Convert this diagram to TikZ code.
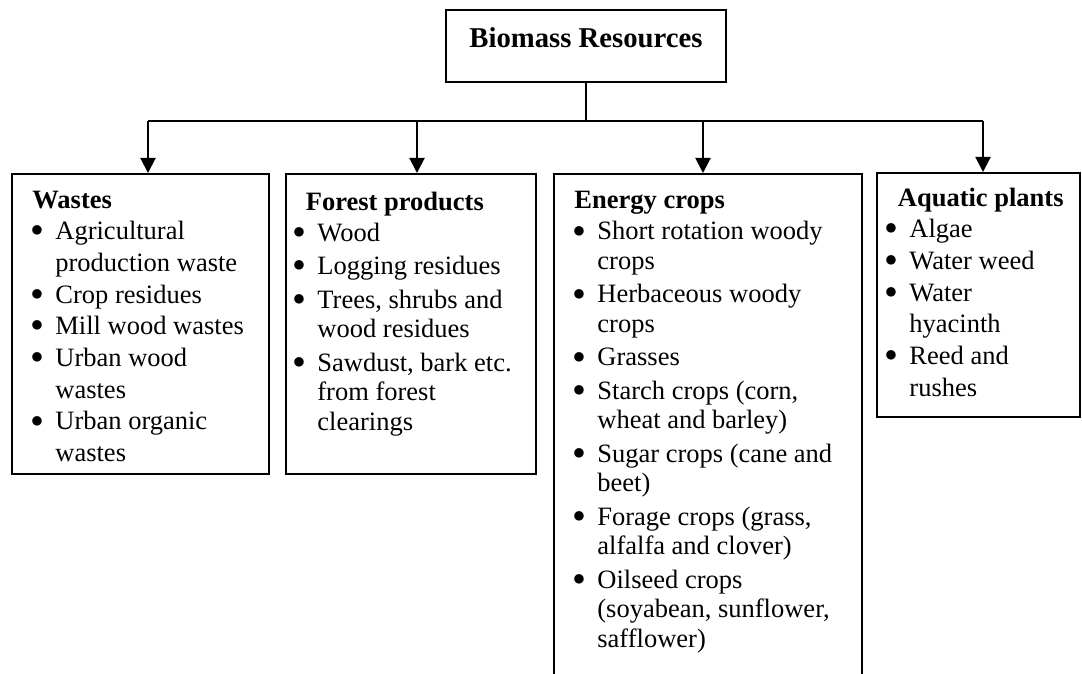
\documentclass[tikz,border=0pt]{standalone}
\usepackage{fontspec}
\usepackage{graphicx}
\setmainfont{Liberation Serif}
\usetikzlibrary{arrows.meta}

\newcommand{\itm}{\makebox[10.4pt][l]{\hspace*{-1.1pt}\raisebox{-1.9pt}{\scalebox{1.5}{\textbullet}}}}
\newcommand{\cnt}{\hspace*{10.4pt}}

\tikzset{
  catbox/.style={draw, line width=0.9pt, inner sep=0pt, anchor=north west},
  loose/.style={inner sep=0pt, anchor=base west, font=\fontsize{12}{14.35}\selectfont},
  tight/.style={inner sep=0pt, anchor=base west, font=\fontsize{12}{13.36}\selectfont},
  arr/.style={-{Triangle[length=6.8pt,width=6.8pt]}, line width=0.9pt},
  bus/.style={line width=0.9pt}
}

\begin{document}
\begin{tikzpicture}[x=0.4528pt, y=-0.4528pt]
    \useasboundingbox (0,0) rectangle (1082,673);
    \clip (0,0) rectangle (1082,673);

    % Root
    \node (top) [draw, line width=0.9pt, inner sep=0pt, minimum width=126.8pt, text height=16.75pt, text depth=15.85pt, anchor=base, font=\fontsize{13}{15}\selectfont\bfseries] at (586,47) {Biomass Resources};

    % Categories
    \node (wastes) [catbox, minimum width=116.4pt, minimum height=135.8pt] at (11,173) {};
    \node (forest) [catbox, minimum width=113.2pt, minimum height=135.8pt] at (285,173) {};
    \node (energy) [catbox, minimum width=139.5pt, minimum height=238.6pt] at (553,173) {};
    \node (aquatic) [catbox, minimum width=91.9pt, minimum height=110.5pt] at (876,172) {};

    % Lists
    \node (wastestxt) [loose] at (32,208) {\begin{tabular}[t]{@{}l@{}}
        \textbf{Wastes}\\
        \itm Agricultural\\
        \cnt production waste\\
        \itm Crop residues\\
        \itm Mill wood wastes\\
        \itm Urban wood\\
        \cnt wastes\\
        \itm Urban organic\\
        \cnt wastes
    \end{tabular}};
    \node (foresttxt) [tight] at (294,210) {\begin{tabular}[t]{@{}l@{}}
        \hspace*{5.2pt}\textbf{Forest products}\\[0.8pt]
        \itm Wood\\[1.8pt]
        \itm Logging residues\\[1.8pt]
        \itm Trees, shrubs and\\
        \cnt wood residues\\[1.8pt]
        \itm Sawdust, bark etc.\\
        \cnt from forest\\
        \cnt clearings
    \end{tabular}};
    \node (energytxt) [tight] at (574,208) {\begin{tabular}[t]{@{}l@{}}
        \textbf{Energy crops}\\[1.1pt]
        \itm Short rotation woody\\
        \cnt crops\\[1.8pt]
        \itm Herbaceous woody\\
        \cnt crops\\[1.8pt]
        \itm Grasses\\[1.8pt]
        \itm Starch crops (corn,\\
        \cnt wheat and barley)\\[1.8pt]
        \itm Sugar crops (cane and\\
        \cnt beet)\\[1.8pt]
        \itm Forage crops (grass,\\
        \cnt alfalfa and clover)\\[1.8pt]
        \itm Oilseed crops\\
        \cnt (soyabean, sunflower,\\
        \cnt safflower)
    \end{tabular}};
    \node (aquatictxt) [loose] at (886,206) {\begin{tabular}[t]{@{}l@{}}
        \hspace*{5.2pt}\textbf{Aquatic plants}\\
        \itm Algae\\
        \itm Water weed\\
        \itm Water\\
        \cnt hyacinth\\
        \itm Reed and\\
        \cnt rushes
    \end{tabular}};

    % Connections
    \coordinate (b1) at (148,121);
    \coordinate (b2) at (417,121);
    \coordinate (b3) at (703,121);
    \coordinate (b4) at (983,121);
    \draw[bus] (top.south) -- (top.south |- b1);
    \draw[bus] (b1) -- (b4);
    \draw[arr] (b1) -- (b1 |- wastes.north);
    \draw[arr] (b2) -- (b2 |- forest.north);
    \draw[arr] (b3) -- (b3 |- energy.north);
    \draw[arr] (b4) -- (b4 |- aquatic.north);
\end{tikzpicture}
\end{document}
